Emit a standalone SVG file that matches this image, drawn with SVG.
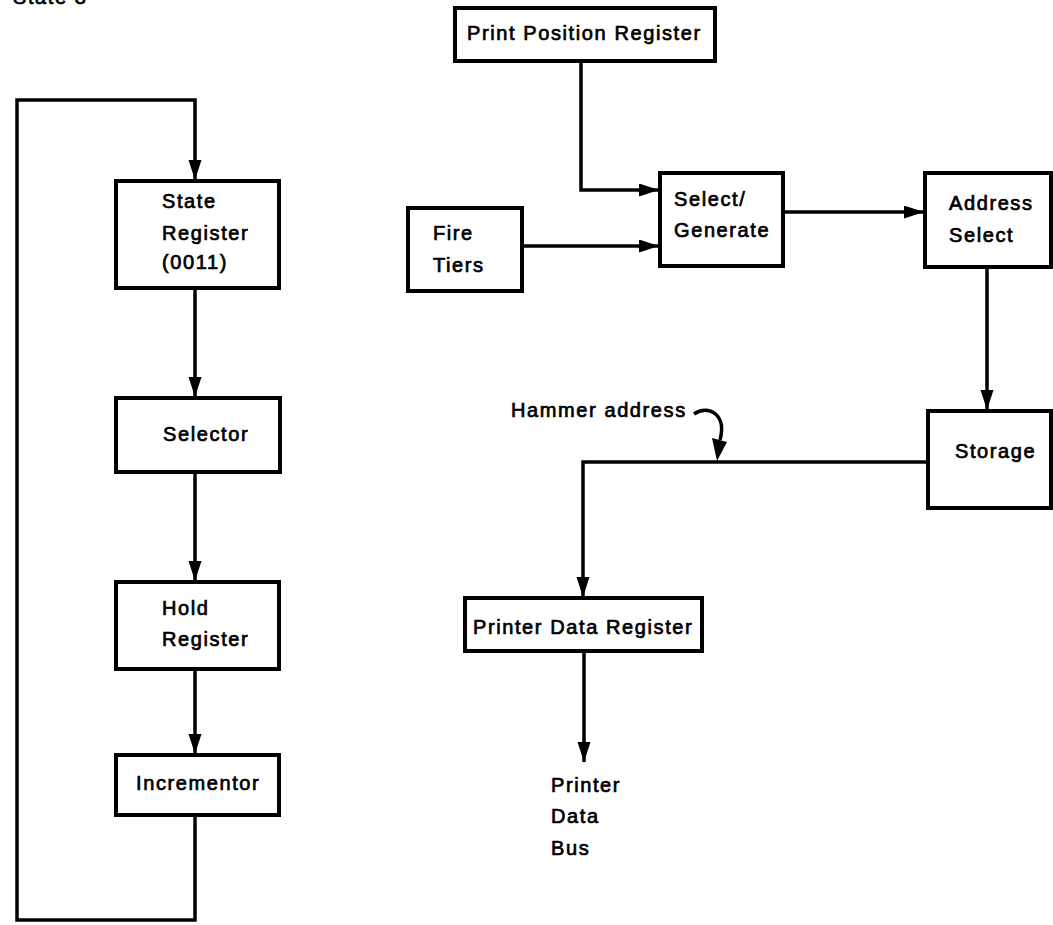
<svg xmlns="http://www.w3.org/2000/svg" width="1053" height="925" viewBox="0 0 1053 925">
<style>
.box{fill:#fff;stroke:#000;stroke-width:4}
.t{font-family:"Liberation Sans",Arial,sans-serif;font-size:20px;letter-spacing:1.6px;fill:#000;stroke:#000;stroke-width:0.7}
.c{fill:none;stroke:#000;stroke-width:3.5}
</style>
<defs>
<marker id="ah" markerUnits="userSpaceOnUse" markerWidth="22" markerHeight="14" refX="20" refY="6.5" orient="auto">
<path d="M0,0 L20,6.5 L0,13 Z" fill="#000"/>
</marker>
</defs>
<rect width="1053" height="925" fill="#fff"/>
<text class="t" x="13" y="4">State 3</text>
<g id="connectors">
<polyline class="c" points="195,815 195,920 17,920 17,100 195,100 195,180" marker-end="url(#ah)"/>
<line class="c" x1="195" y1="289" x2="195" y2="397" marker-end="url(#ah)"/>
<line class="c" x1="195" y1="473" x2="195" y2="581" marker-end="url(#ah)"/>
<line class="c" x1="195" y1="670" x2="195" y2="754" marker-end="url(#ah)"/>
<polyline class="c" points="581,62 581,190 659,190" marker-end="url(#ah)"/>
<line class="c" x1="523" y1="246" x2="659" y2="246" marker-end="url(#ah)"/>
<line class="c" x1="784" y1="212" x2="924" y2="212" marker-end="url(#ah)"/>
<line class="c" x1="987" y1="268" x2="987" y2="410" marker-end="url(#ah)"/>
<polyline class="c" points="927,462 583,462 583,597" marker-end="url(#ah)"/>
<line class="c" x1="584" y1="652" x2="584" y2="762" marker-end="url(#ah)"/>
<path class="c" d="M694,414 C708,404 727,414 720,440" stroke-width="3"/>
<path d="M712,438 L727,442 L717,461 Z" fill="#000"/>
</g>
<g id="state-register">
<rect class="box" x="116" y="181" width="163" height="107"/>
<text class="t" x="162" y="208">State</text>
<text class="t" x="162" y="240">Register</text>
<text class="t" x="162" y="269">(0011)</text>
</g>
<g id="selector">
<rect class="box" x="116" y="398" width="164" height="74"/>
<text class="t" x="163" y="441">Selector</text>
</g>
<g id="hold-register">
<rect class="box" x="116" y="582" width="163" height="87"/>
<text class="t" x="162" y="615">Hold</text>
<text class="t" x="162" y="646">Register</text>
</g>
<g id="incrementor">
<rect class="box" x="116" y="755" width="163" height="60"/>
<text class="t" x="136" y="790">Incrementor</text>
</g>
<g id="print-position-register">
<rect class="box" x="455" y="8" width="260" height="53"/>
<text class="t" x="467" y="40">Print Position Register</text>
</g>
<g id="fire-tiers">
<rect class="box" x="408" y="208" width="114" height="83"/>
<text class="t" x="433" y="240">Fire</text>
<text class="t" x="433" y="272">Tiers</text>
</g>
<g id="select-generate">
<rect class="box" x="660" y="173" width="123" height="93"/>
<text class="t" x="674" y="206">Select/</text>
<text class="t" x="674" y="237">Generate</text>
</g>
<g id="address-select">
<rect class="box" x="925" y="173" width="126" height="94"/>
<text class="t" x="949" y="210">Address</text>
<text class="t" x="949" y="242">Select</text>
</g>
<g id="storage">
<rect class="box" x="928" y="411" width="123" height="97"/>
<text class="t" x="955" y="458">Storage</text>
</g>
<g id="hammer-address">
<text class="t" x="511" y="417">Hammer address</text>
</g>
<g id="printer-data-register">
<rect class="box" x="465" y="598" width="237" height="53"/>
<text class="t" x="473" y="634">Printer Data Register</text>
</g>
<g id="printer-data-bus">
<text class="t" x="551" y="792">Printer</text>
<text class="t" x="551" y="823">Data</text>
<text class="t" x="551" y="855">Bus</text>
</g>
</svg>
